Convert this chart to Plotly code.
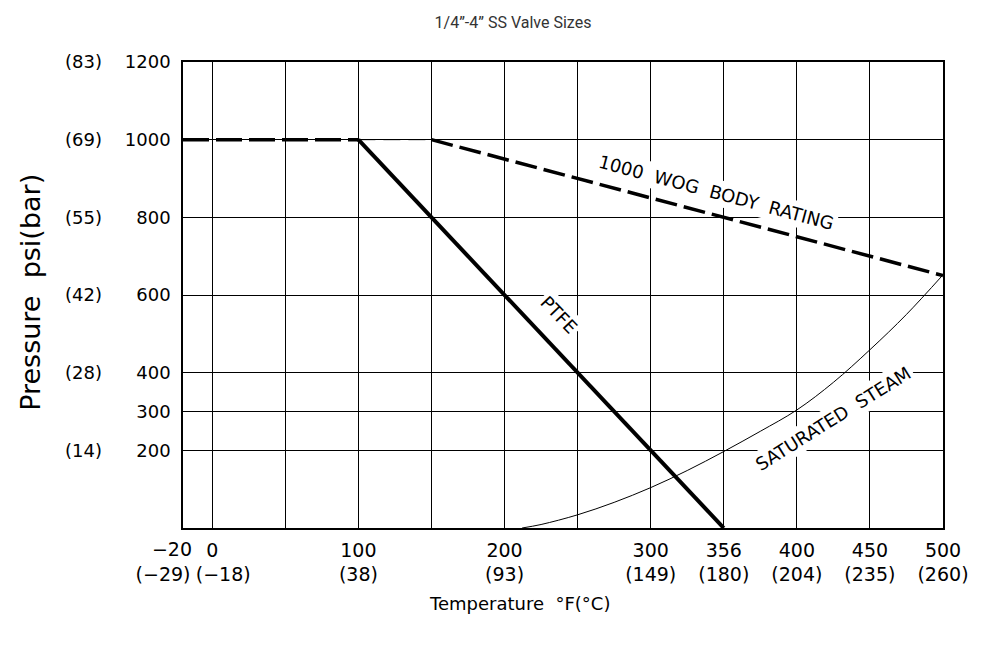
import plotly.graph_objects as go

# ---- data ----
x_tick_vals = [-20, 0, 50, 100, 150, 200, 250, 300, 350, 400, 450, 500]
x_tick_f = ["−20", "0", "", "100", "", "200", "", "300", "356", "400", "450", "500"]
x_tick_c = ["(−29)", "(−18)", "", "(38)", "", "(93)", "", "(149)", "(180)", "(204)", "(235)", "(260)"]

y_tick_vals = [200, 300, 400, 600, 800, 1000, 1200]
y_tick_psi = ["200", "300", "400", "600", "800", "1000", "1200"]
y_tick_bar = ["(14)", "", "(28)", "(42)", "(55)", "(69)", "(83)"]

body_left_temp = [-20, 100]
body_left_psi = [1000, 1000]
transition_temp = [100, 150]
transition_psi = [1000, 1000]
wog_temp = [150, 500]
wog_psi = [1000, 650]
ptfe_temp = [100, 350]
ptfe_psi = [1000, 0]
steam_temp = [212, 225, 250, 275, 300, 325, 350, 375, 400, 425, 450, 475, 500]
steam_psi = [0, 9, 34, 66, 104, 148, 197, 249, 304, 375, 459, 550, 652]

CAD = "DejaVu Sans"
X_RANGE = [-20, 500]
Y_RANGE = [0, 1200]

fig = go.Figure()
fig.add_trace(go.Scatter(x=body_left_temp, y=body_left_psi, mode="lines",
                         line=dict(color="black", width=3.5, dash="26px,7px"), hoverinfo="skip"))
fig.add_trace(go.Scatter(x=transition_temp, y=transition_psi, mode="lines",
                         line=dict(color="black", width=1, dash="17px,8px"), hoverinfo="skip"))
fig.add_trace(go.Scatter(x=wog_temp, y=wog_psi, mode="lines",
                         line=dict(color="black", width=3.5, dash="22px,7px"), hoverinfo="skip"))
fig.add_trace(go.Scatter(x=ptfe_temp, y=ptfe_psi, mode="lines",
                         line=dict(color="black", width=4), hoverinfo="skip"))
fig.add_trace(go.Scatter(x=steam_temp, y=steam_psi, mode="lines",
                         line=dict(color="black", width=1, shape="spline"), hoverinfo="skip"))
# helper traces so the overlaid label axes are drawn
for xa, ya in [("x2", "y"), ("x3", "y"), ("x4", "y"), ("x5", "y"), ("x", "y2")]:
    fig.add_trace(go.Scatter(x=[None], y=[None], xaxis=xa, yaxis=ya, showlegend=False, hoverinfo="skip"))

ann_font = dict(family=CAD, size=18, color="black")
annotations = [
    dict(x=345, y=864, xref="x", yref="y", text="1000  WOG  BODY  RATING", textangle=15,
         showarrow=False, bgcolor="white", borderpad=2, font=ann_font),
    dict(x=237, y=549, xref="x", yref="y", text="PTFE", textangle=46,
         showarrow=False, bgcolor="white", borderpad=2, font=ann_font),
    dict(x=425, y=281, xref="x", yref="y", text="SATURATED  STEAM", textangle=-32,
         showarrow=False, bgcolor="white", borderpad=2, font=ann_font),
    dict(x=-0.2005, y=0.506, xref="paper", yref="paper", xanchor="center", yanchor="middle",
         text="Pressure  psi(bar)", textangle=-90,
         showarrow=False, font=dict(family=CAD, size=27, color="black")),
    dict(x=0.443, y=-0.161, xref="paper", yref="paper", xanchor="center", yanchor="middle",
         text="Temperature  °F(°C)",
         showarrow=False, font=dict(family=CAD, size=18, color="black")),
]

tick_font = dict(family=CAD, size=19, color="black")


def label_axis(idx, texts, standoff, shift=0):
    """Overlaid bottom axis that only carries the labels at positions idx."""
    return dict(range=X_RANGE, overlaying="x", side="bottom", anchor="y", tickmode="array",
                tickvals=[x_tick_vals[i] for i in idx], ticktext=[texts[i] for i in idx],
                showline=False, showgrid=False, zeroline=False, ticks="", tickangle=0,
                tickfont=tick_font, ticklabelstandoff=standoff, ticklabelshift=shift)


F_STANDOFF = 4
C_STANDOFF = 33
main_f_text = [""] + x_tick_f[1:]          # the "-20" label sits left of its line
rest = list(range(2, len(x_tick_vals)))

fig.update_layout(
    width=973, height=639,
    margin=dict(l=175, r=35, t=54, b=119),
    paper_bgcolor="white", plot_bgcolor="white",
    showlegend=False,
    title=dict(text="1/4”-4” SS Valve Sizes", x=0.519, xanchor="center", y=0.978, yanchor="middle",
               font=dict(family="Roboto", size=16, color="#333333")),
    xaxis=dict(range=X_RANGE, tickmode="array", tickvals=x_tick_vals, ticktext=main_f_text,
               showgrid=True, gridcolor="black", gridwidth=1, zeroline=False, ticks="",
               showline=True, mirror=True, linecolor="black", linewidth=1.5, tickangle=0,
               tickfont=tick_font, ticklabelstandoff=F_STANDOFF, fixedrange=True),
    xaxis3=label_axis([0], x_tick_f, F_STANDOFF + 4, shift=-11),
    xaxis2=label_axis(rest, x_tick_c, C_STANDOFF),
    xaxis4=label_axis([1], x_tick_c, C_STANDOFF, shift=11),
    xaxis5=label_axis([0], x_tick_c, C_STANDOFF, shift=-20),
    yaxis=dict(range=Y_RANGE, tickmode="array", tickvals=y_tick_vals, ticktext=y_tick_psi,
               showgrid=True, gridcolor="black", gridwidth=1, zeroline=False, ticks="",
               showline=True, mirror=True, linecolor="black", linewidth=1.5,
               tickfont=dict(family=CAD, size=18, color="black"), ticklabelstandoff=7,
               fixedrange=True),
    yaxis2=dict(range=Y_RANGE, overlaying="y", side="left", anchor="x", tickmode="array",
                tickvals=y_tick_vals, ticktext=y_tick_bar, showline=False, showgrid=False,
                zeroline=False, ticks="", fixedrange=True,
                tickfont=dict(family=CAD, size=18, color="black"), ticklabelstandoff=80),
    annotations=annotations,
)

fig.write_html("out.html")
